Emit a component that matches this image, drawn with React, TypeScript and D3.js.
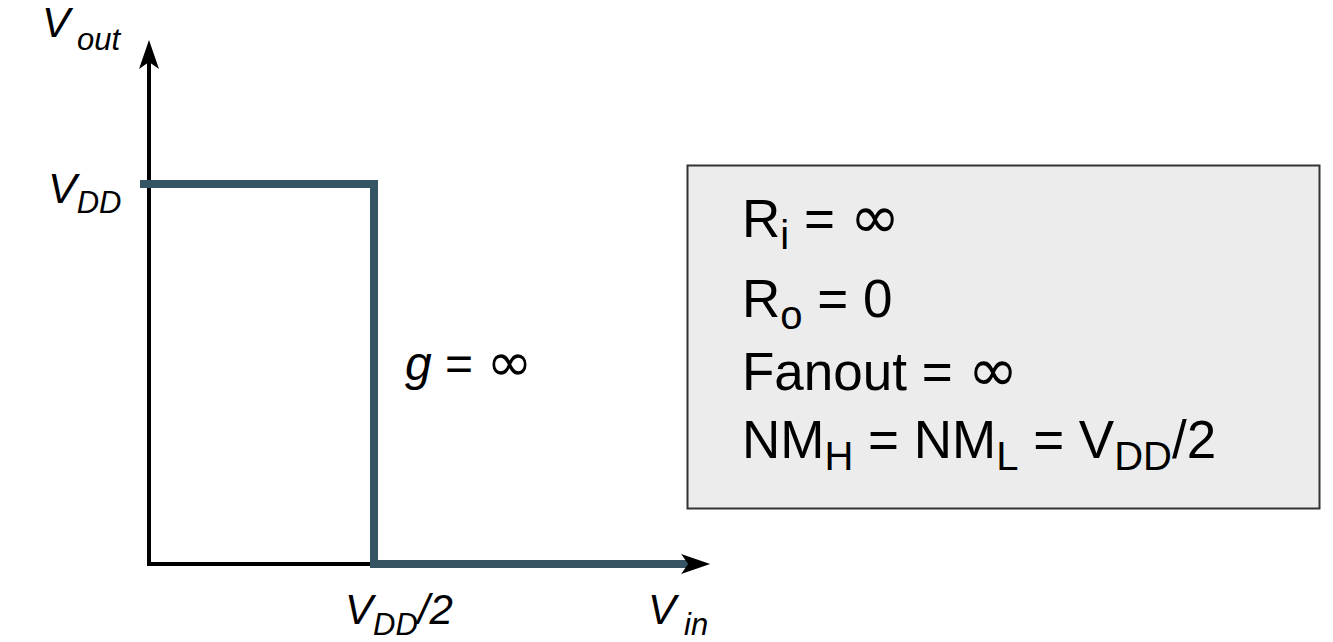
import { scaleLinear, line } from 'd3';

// transfer curve of the ideal inverter (Vin, Vout in units of VDD)
const vin = [-0.02, 0.5, 0.5, 1.2];
const vout = [1, 1, 0, 0];

// axis extents (arrow tips), in units of VDD
const xAxisEnd = 1.247;
const yAxisEnd = 1.379;

// box of ideal properties: [main, subscript, main, ...] segments per line
const propLines: string[][] = [
  ['R', 'i', ' = ∞'],
  ['R', 'o', ' = 0'],
  ['Fanout = ∞'],
  ['NM', 'H', ' = NM', 'L', ' = V', 'DD', '/2'],
];
const gainLabel = 'g';
const gainValue = ' = ∞';

const W = 1333;
const H = 642;
const FONT = '"Liberation Sans", Arial, Helvetica, sans-serif';
const INF_FONT = '"DejaVu Sans", sans-serif';
const CURVE = '#355464';

// split a string so the infinity sign can be drawn with a bigger glyph
function withInf(s: string, size: number) {
  const parts = s.split('∞');
  return parts.map((p, i) => (
    <tspan key={i}>
      {p}
      {i < parts.length - 1 && (
        <tspan fontFamily={INF_FONT} fontStyle="normal" fontSize={size * 1.15} dy={1}>
          ∞
        </tspan>
      )}
    </tspan>
  ));
}

export default function App() {
  const x = scaleLinear().domain([0, 1]).range([149, 599]);
  const y = scaleLinear().domain([0, 1]).range([564, 184]);

  const path = line<number>()
    .x((_, i) => x(vin[i]))
    .y((d) => y(d))(vout);

  const x0 = x(0);
  const y0 = y(0);
  const xTip = x(xAxisEnd);
  const yTip = y(yAxisEnd);

  // notched arrowhead, pointing up at (0,0)
  const arrow = 'M0,0 L-10,29 L0,22 L10,29 Z';

  const propBaselines = [237, 317, 390, 458];

  return (
    <svg
      width={W}
      height={H}
      style={{ position: 'absolute', left: 0, top: 0, background: '#fff' }}
      fontFamily={FONT}
    >
      {/* axes */}
      <g stroke="#000" strokeWidth={4} fill="none">
        <line x1={x0} y1={y0 + 2} x2={x0} y2={yTip + 15} />
        <line x1={x0 - 2} y1={y0} x2={xTip - 15} y2={y0} />
      </g>
      <path d={arrow} fill="#000" transform={`translate(${x0},${yTip})`} />

      {/* curve */}
      <path
        d={path ?? ''}
        fill="none"
        stroke={CURVE}
        strokeWidth={8}
        strokeLinejoin="miter"
        strokeLinecap="butt"
      />
      <path d={arrow} fill="#000" transform={`translate(${xTip},${y0}) rotate(90)`} />

      {/* axis labels */}
      <g fontStyle="italic" fill="#000">
        <text x={42} y={37} fontSize={42}>
          V
        </text>
        <text x={77} y={50} fontSize={31}>
          out
        </text>

        <text x={x0 - 101} y={y(1) + 19} fontSize={43}>
          V<tspan fontSize={31} dy={10}>DD</tspan>
        </text>

        <text x={x(0.5) - 29} y={y0 + 60} fontSize={42}>
          V<tspan fontSize={31} dy={11}>DD</tspan>
          <tspan dy={-11}>/2</tspan>
        </text>

        <text x={648} y={y0 + 60} fontSize={42}>
          V
        </text>
        <text x={684} y={y0 + 71} fontSize={31}>
          in
        </text>

        <text x={x(0.5) + 31} y={380} fontSize={48}>
          {gainLabel}
          <tspan fontStyle="normal">{withInf(gainValue, 48)}</tspan>
        </text>
      </g>

      {/* properties box */}
      <rect x={687.5} y={165.5} width={632} height={343} fill="#ececec" stroke="#333" strokeWidth={2} />
      <g fill="#000" fontSize={53}>
        {propLines.map((segs, li) => (
          <text key={li} x={742} y={propBaselines[li]}>
            {segs.map((s, si) => {
              const isSub = si % 2 === 1;
              const dy = si === 0 ? 0 : isSub ? 12 : -12;
              const size = isSub ? 40 : 53;
              return (
                <tspan key={si} dy={dy} fontSize={size}>
                  {withInf(s, size)}
                </tspan>
              );
            })}
          </text>
        ))}
      </g>
    </svg>
  );
}
